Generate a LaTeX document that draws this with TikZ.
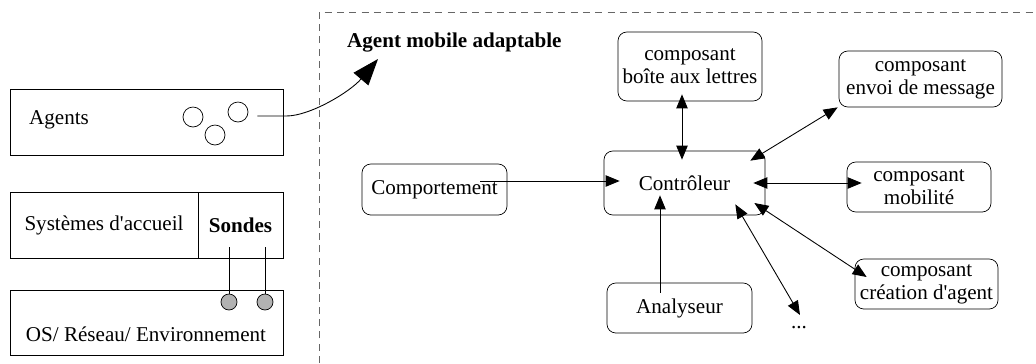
\documentclass[tikz,border=0pt]{standalone}
\usepackage{fontspec}
\setmainfont{Liberation Serif}
\usetikzlibrary{arrows.meta,calc}
\begin{document}
\begin{tikzpicture}
[
  x=0.02cm, y=-0.02cm,
  every node/.style={font=\fontsize{12}{13}\selectfont},
  layer/.style={draw, minimum height=1.32cm, inner sep=0pt},
  comp/.style={draw, rounded corners=5pt, align=center, inner sep=0pt},
  ag/.style={draw, circle, minimum size=0.4cm, inner sep=0pt},
  probe/.style={draw, circle, fill=black!30, minimum size=0.32cm, inner sep=0pt},
  arr/.style={-{Triangle[length=8pt,width=6.5pt]}, line width=0.5pt},
  biarr/.style={{Triangle[length=8pt,width=6.5pt]}-{Triangle[length=8pt,width=6.5pt]}, line width=0.5pt},
]
\useasboundingbox (0,0) rectangle (1036,363);

\node[layer, minimum width=5.46cm] (agents) at (146.5,122) {};
\node[anchor=west] (agentstxt) at (23,120) {Agents};
\node[ag] (a1) at (193,117) {};
\node[ag] (a2) at (238,112) {};
\node[ag] (a3) at (215,135) {};

\node[layer, minimum width=3.76cm] (accueil) at (104,225) {Systèmes d\textquotesingle accueil};
\node[layer, minimum width=1.7cm] (sondes) at (240.5,225) {\textbf{Sondes}};

\node[layer, minimum width=5.46cm, minimum height=1.3cm] (os) at (146.5,322.5) {};
\node (ostxt) at (146,334) {OS/ Réseau/ Environnement};
\node[probe] (p1) at (229,302) {};
\node[probe] (p2) at (265,302) {};
\coordinate (s1) at (229,247);
\coordinate (s2) at (265,247);
\draw (s1) -- (p1);
\draw (s2) -- (p2);

\draw[black!60, dash pattern=on 4pt off 3pt] (319,363) -- (319,12) -- (1036,12);
\node[anchor=west, font=\fontsize{12}{13}\selectfont\bfseries] (title) at (341,43) {Agent mobile adaptable};

\coordinate (mobtip) at (378,59);
\draw[-{Triangle[length=15pt,width=11pt]}, line width=0.5pt] ($(agents.east)+(-26,-6)$) -- ++(29,0) .. controls (310,116) and (350,92) .. (mobtip);

\node[comp, minimum width=2.88cm, minimum height=1.38cm] (boite) at (690,66.5) {composant\\boîte aux lettres};
\node[comp, minimum width=3.26cm, minimum height=1.12cm] (envoi) at (920.5,79) {composant\\envoi de message};
\node[comp, minimum width=3.22cm, minimum height=1.28cm] (ctrl) at (684.5,183) {Contrôleur};
\node[comp, minimum width=2.88cm, minimum height=1.0cm] (mobil) at (919,187) {composant\\mobilité};
\node[comp, minimum width=2.86cm, minimum height=1.0cm] (creat) at (926.5,284) {composant\\création d\textquotesingle agent};
\node[comp, minimum width=2.9cm, minimum height=1.0cm] (analy) at (679.5,308) {Analyseur};
\node[comp, minimum width=2.9cm, minimum height=1.02cm] (behav) at (434.5,189.5) {Comportement};
\node (dots) at (799,328) {...};

\draw[arr] ($(behav.east)+(-27,-8.5)$) -- ($(ctrl.west)+(16,-2)$);
\draw[biarr] ($(boite.south)+(-8,-7)$) -- ($(ctrl.north)+(-2.5,9)$);
\draw[biarr] ($(envoi.south west)+(-1,0)$) -- ($(ctrl.north east)+(-15,10)$);
\draw[biarr] ($(mobil.west)+(15,-4)$) -- ($(ctrl.east)+(-12,0)$);
\draw[biarr] ($(creat.west)+(12,-7)$) -- ($(ctrl.east)+(-11,20)$);
\draw[biarr] ($(dots.center)+(1,-13)$) -- ($(ctrl.south east)+(-30,-11)$);
\draw[arr] ($(analy.north)+(-19.5,10)$) -- ($(ctrl.south)+(-24.5,-20)$);

\end{tikzpicture}
\end{document}
